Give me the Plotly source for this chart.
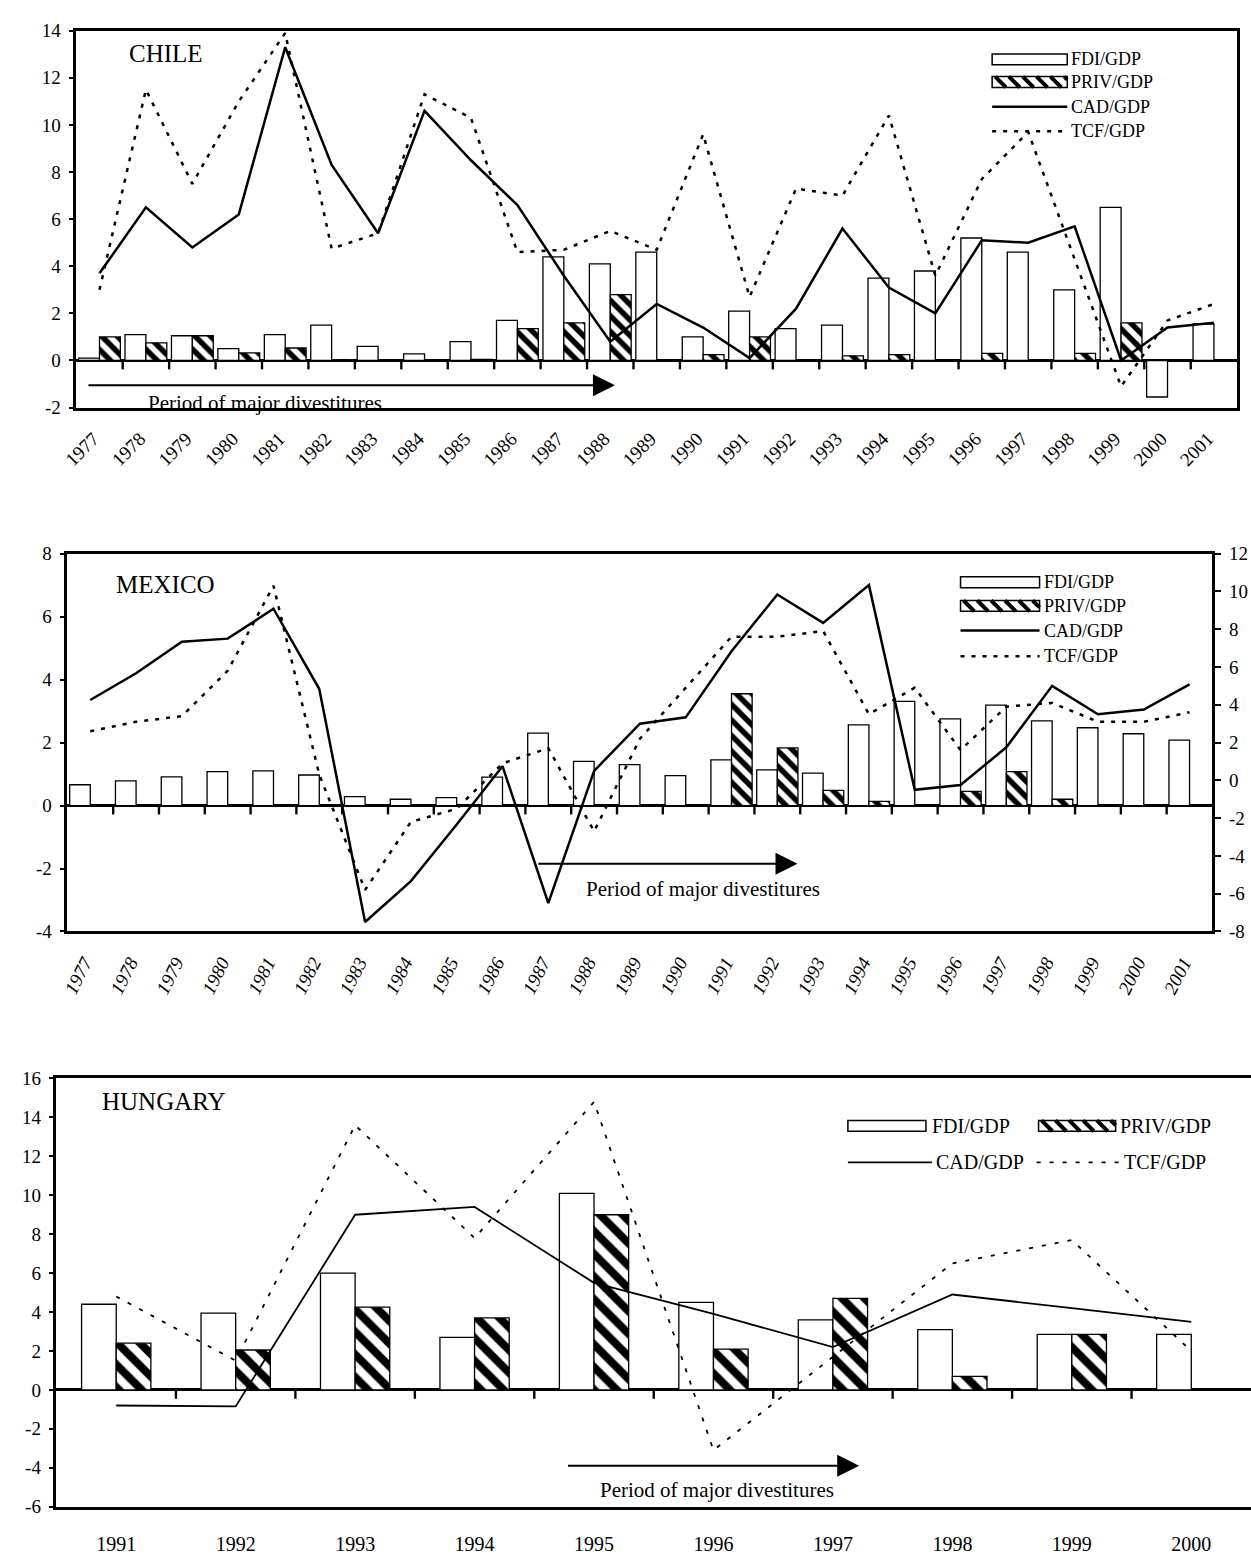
import plotly.graph_objects as go

W, H = 1251, 1568
SERIF = "Liberation Serif"

# ---------------- data (% of GDP) ----------------
chile_years = [str(y) for y in range(1977, 2002)]
chile_fdi = [0.1, 1.1, 1.05, 0.5, 1.1, 1.5, 0.6, 0.28, 0.8, 1.7, 4.4, 4.1, 4.6, 1.0,
             2.1, 1.35, 1.5, 3.5, 3.8, 5.2, 4.6, 3.0, 6.5, -1.55, 1.55]
chile_priv = [1.0, 0.75, 1.05, 0.32, 0.53, 0.03, 0, 0, 0.05, 1.35, 1.6, 2.8, 0, 0.25,
              1.0, 0, 0.2, 0.25, 0, 0.3, 0, 0.3, 1.6, 0, 0]
chile_cad = [3.7, 6.5, 4.8, 6.2, 13.3, 8.3, 5.4, 10.6, 8.5, 6.6, 3.6, 0.8, 2.4, 1.4,
             0.1, 2.2, 5.6, 3.1, 2.0, 5.1, 5.0, 5.7, 0.0, 1.4, 1.6]
chile_tcf = [3.0, 11.5, 7.5, 11.0, 13.9, 4.75, 5.4, 11.3, 10.3, 4.6, 4.7, 5.5, 4.7, 9.6,
             2.7, 7.3, 7.0, 10.4, 3.6, 7.7, 9.7, 4.3, -1.1, 1.7, 2.4]

mexico_years = [str(y) for y in range(1977, 2002)]
mexico_fdi = [0.66, 0.78, 0.91, 1.08, 1.1, 0.97, 0.28, 0.2, 0.25, 0.9, 2.3, 1.4, 1.3, 0.95,
              1.45, 1.13, 1.03, 2.56, 3.31, 2.75, 3.19, 2.69, 2.47, 2.28, 2.08]
mexico_priv = [0, 0, 0, 0, 0, 0, 0, 0, 0, 0, 0, 0, 0, 0,
               3.55, 1.83, 0.48, 0.13, 0, 0.45, 1.08, 0.2, 0, 0, 0]
mexico_cad = [3.35, 4.2, 5.2, 5.3, 6.25, 3.7, -3.7, -2.4, -0.6, 1.25, -3.1, 1.1, 2.6, 2.8,
              4.9, 6.7, 5.8, 7.0, 0.5, 0.65, 1.85, 3.8, 2.9, 3.05, 3.85]
# TCF/GDP for Mexico is read on the right-hand axis
mexico_tcf = [2.6, 3.1, 3.4, 5.8, 10.3, 0.3, -5.8, -2.2, -1.5, 0.9, 1.7, -2.7, 2.2, 4.9,
              7.6, 7.6, 7.9, 3.5, 4.9, 1.6, 3.9, 4.1, 3.1, 3.1, 3.6]

hungary_years = [str(y) for y in range(1991, 2001)]
hungary_fdi = [4.4, 3.95, 6.0, 2.7, 10.1, 4.5, 3.6, 3.1, 2.85, 2.85]
hungary_priv = [2.4, 2.05, 4.25, 3.7, 9.0, 2.1, 4.7, 0.7, 2.85, 0]
hungary_cad = [-0.8, -0.85, 9.0, 9.4, 5.5, 3.9, 2.2, 4.9, 4.2, 3.5]
hungary_tcf = [4.8, 1.5, 13.6, 7.8, 14.8, -3.1, 1.7, 6.5, 7.7, 2.0]

# panel boxes in pixels: (left, right, top, bottom) and value ranges
CHILE_BOX, CHILE_RANGE = (62, 1237, 21, 403), (-2, 14)
MEXICO_BOX, MEXICO_RANGE, MEXICO_RANGE_R = (53, 1212, 551, 934), (-4, 8), (-8, 12)
HUNGARY_BOX, HUNGARY_RANGE = (42, W, 1083, 1517), (-6, 16)


def pxx(x):
    return x / W


def pxy(y):
    return 1 - y / H


def ticks_for(lo, hi, step=2):
    vals = list(range(lo, hi + 1, step))
    return vals, [str(v) for v in vals]


fig = go.Figure()


def add_panel(years, fdi, priv, cad, tcf, xa, ya, ya_tcf, bar_w, hatch, lw, dash):
    fig.add_trace(go.Bar(
        x=years, y=fdi, xaxis=xa, yaxis=ya, width=bar_w, offset=-bar_w,
        marker=dict(color="white", line=dict(color="black", width=1.3)),
        name="FDI/GDP"))
    fig.add_trace(go.Bar(
        x=years, y=priv, xaxis=xa, yaxis=ya, width=bar_w, offset=0,
        marker=dict(color="white", line=dict(color="black", width=1.3),
                    pattern=dict(shape="\\", fgcolor="black", bgcolor="white",
                                 fgopacity=1, size=hatch, solidity=0.5)),
        name="PRIV/GDP"))
    fig.add_trace(go.Scatter(
        x=years, y=cad, xaxis=xa, yaxis=ya, mode="lines",
        line=dict(color="black", width=lw), name="CAD/GDP"))
    fig.add_trace(go.Scatter(
        x=years, y=tcf, xaxis=xa, yaxis=ya_tcf, mode="lines",
        line=dict(color="black", width=lw, dash=dash), name="TCF/GDP"))


add_panel(chile_years, chile_fdi, chile_priv, chile_cad, chile_tcf,
          "x", "y", "y", 0.45, 11, 2.5, "4px,7px")
add_panel(mexico_years, mexico_fdi, mexico_priv, mexico_cad, mexico_tcf,
          "x2", "y2", "y3", 0.45, 11, 2.5, "4px,7px")
add_panel(hungary_years, hungary_fdi, hungary_priv, hungary_cad, hungary_tcf,
          "x3", "y4", "y4", 0.29, 16, 1.8, "4px,9px")

line_style = dict(showline=True, linecolor="black", linewidth=2.5, showgrid=False)
tick_font = dict(family=SERIF, size=19, color="black")


def y_axis(box, rng, **extra):
    vals, texts = ticks_for(*rng)
    d = dict(domain=[pxy(box[3]), pxy(box[2])], range=list(rng),
             tickmode="array", tickvals=vals, ticktext=texts,
             ticks="outside", ticklen=5, tickwidth=1.5, tickcolor="black",
             tickfont=tick_font, ticklabelstandoff=4, **line_style)
    d.update(extra)
    return d


layout = dict(
    width=W, height=H, margin=dict(l=0, r=0, t=0, b=0, pad=0), autosize=False,
    paper_bgcolor="white", plot_bgcolor="white", showlegend=False,
    font=dict(family=SERIF, color="black"),
    # Chile
    xaxis=dict(domain=[pxx(CHILE_BOX[0]), pxx(CHILE_BOX[1])], anchor="y", type="category",
               mirror=True, ticks="", tickangle=-45,
               tickfont=dict(family=SERIF, size=19, color="black"),
               ticklabelstandoff=10, ticklabelshift=-6, zeroline=False, **line_style),
    yaxis=y_axis(CHILE_BOX, CHILE_RANGE, anchor="x", mirror=True,
                 zeroline=True, zerolinecolor="black", zerolinewidth=2.5),
    # Mexico
    xaxis2=dict(domain=[pxx(MEXICO_BOX[0]), pxx(MEXICO_BOX[1])], anchor="y2", type="category",
                mirror=True, ticks="", tickangle=-63,
                tickfont=dict(family=SERIF, size=19, color="black", style="italic"),
                ticklabelstandoff=10, ticklabelshift=-6, zeroline=False, **line_style),
    yaxis2=y_axis(MEXICO_BOX, MEXICO_RANGE, anchor="x2",
                  zeroline=True, zerolinecolor="black", zerolinewidth=2.5),
    yaxis3=y_axis(MEXICO_BOX, MEXICO_RANGE_R, overlaying="y2", side="right", anchor="x2",
                  ticklen=6, zeroline=False),
    # Hungary
    xaxis3=dict(domain=[pxx(HUNGARY_BOX[0]), pxx(HUNGARY_BOX[1])], anchor="y4", type="category",
                mirror=True, ticks="", tickfont=dict(family=SERIF, size=20, color="black"),
                ticklabelstandoff=18, zeroline=False, **line_style),
    yaxis4=y_axis(HUNGARY_BOX, HUNGARY_RANGE, anchor="x3",
                  zeroline=True, zerolinecolor="black", zerolinewidth=2.5),
)
fig.update_layout(**layout)

shapes = []
annotations = []

# short tick marks hanging below each zero line at the category boundaries
TICK_LEN = 9
for n, box, rng in ((len(chile_years), CHILE_BOX, CHILE_RANGE),
                    (len(mexico_years), MEXICO_BOX, MEXICO_RANGE),
                    (len(hungary_years), HUNGARY_BOX, HUNGARY_RANGE)):
    left, right, top, bottom = box
    cat_w = (right - left) / n
    zero_px = bottom - (0 - rng[0]) / (rng[1] - rng[0]) * (bottom - top)
    for i in range(1, n):
        bx = left + i * cat_w
        shapes.append(dict(type="rect", xref="paper", yref="paper",
                           x0=pxx(bx - 1.2), x1=pxx(bx + 1.2),
                           y0=pxy(zero_px), y1=pxy(zero_px + TICK_LEN),
                           fillcolor="black", line=dict(width=0), layer="above"))

# divestiture period arrows and captions
caption = "Period of major divestitures"
for xref, yref, x_tail, x_head, y_arrow, x_txt, y_txt in (
        ("x", "y", -0.27, 11.1, -1.05, 3.57, -1.8),
        ("x2", "y2", 9.75, 15.44, -1.85, 13.37, -2.64),
        ("x3", "y4", 3.77, 6.22, -3.9, 5.03, -5.16)):
    annotations.append(dict(xref=xref, yref=yref, x=x_head, y=y_arrow, ax=x_tail, ay=y_arrow,
                            axref=xref, ayref=yref, text="", showarrow=True, arrowhead=2,
                            arrowsize=2.2, arrowwidth=2, arrowcolor="black"))
    annotations.append(dict(xref=xref, yref=yref, x=x_txt, y=y_txt, text=caption,
                            showarrow=False, font=dict(family=SERIF, size=21, color="black")))

# panel titles
for label, x, y in (("CHILE", 113, 44), ("MEXICO", 100, 582), ("HUNGARY", 86, 1106)):
    annotations.append(dict(xref="paper", yref="paper", x=pxx(x), y=pxy(y), text=label,
                            xanchor="left", yanchor="middle", showarrow=False,
                            font=dict(family=SERIF, size=25, color="black")))


# hand-drawn legend swatches (pixel positions converted to paper)
def sw_rect(x0, x1, yc, h=11):
    shapes.append(dict(type="rect", xref="paper", yref="paper",
                       x0=pxx(x0), x1=pxx(x1), y0=pxy(yc - h / 2), y1=pxy(yc + h / 2),
                       fillcolor="white", line=dict(color="black", width=1.5)))


def sw_hatch(x0, x1, yc, h=11, step=14, thick=4):
    sw_rect(x0, x1, yc, h)
    top, bot = yc - h / 2, yc + h / 2
    xs = x0 - h
    while xs < x1:
        ax_, ay_ = xs, top
        bx_, by_ = xs + h, bot
        if ax_ < x0:
            ay_ = top + (x0 - ax_)
            ax_ = x0
        if bx_ > x1:
            by_ = top + (x1 - xs)
            bx_ = x1
        if bx_ > ax_:
            shapes.append(dict(type="line", xref="paper", yref="paper",
                               x0=pxx(ax_), x1=pxx(bx_), y0=pxy(ay_), y1=pxy(by_),
                               line=dict(color="black", width=thick)))
        xs += step


def sw_line(x0, x1, yc, dash="solid", width=2.5):
    shapes.append(dict(type="line", xref="paper", yref="paper",
                       x0=pxx(x0), x1=pxx(x1), y0=pxy(yc), y1=pxy(yc),
                       line=dict(color="black", width=width, dash=dash)))


def sw_text(x, yc, text, size):
    annotations.append(dict(xref="paper", yref="paper", x=pxx(x), y=pxy(yc), text=text,
                            xanchor="left", yanchor="middle", showarrow=False,
                            font=dict(family=SERIF, size=size, color="black")))


def stacked_legend(x0, x1, rows, size):
    (y_f, y_p, y_c, y_t) = rows
    sw_rect(x0, x1, y_f)
    sw_text(x1 + 2, y_f, "FDI/GDP", size)
    sw_hatch(x0, x1, y_p)
    sw_text(x1 + 2, y_p, "PRIV/GDP", size)
    sw_line(x0, x1, y_c)
    sw_text(x1 + 2, y_c, "CAD/GDP", size)
    sw_line(x0, x1, y_t, dash="4px,7px")
    sw_text(x1 + 2, y_t, "TCF/GDP", size)


stacked_legend(989, 1065, (50, 73, 98, 123), 18)
stacked_legend(957, 1037, (580, 604, 629, 655), 18)

# Hungary legend: two rows of two entries
sw_rect(843, 922, 1131)
sw_text(926, 1131, "FDI/GDP", 20)
sw_hatch(1036, 1114, 1131)
sw_text(1116, 1131, "PRIV/GDP", 20)
sw_line(843, 928, 1168, width=1.8)
sw_text(930, 1168, "CAD/GDP", 20)
sw_line(1034, 1118, 1168, dash="4px,9px", width=1.8)
sw_text(1120, 1168, "TCF/GDP", 20)

fig.update_layout(shapes=shapes, annotations=annotations)
fig.write_html("out.html")
